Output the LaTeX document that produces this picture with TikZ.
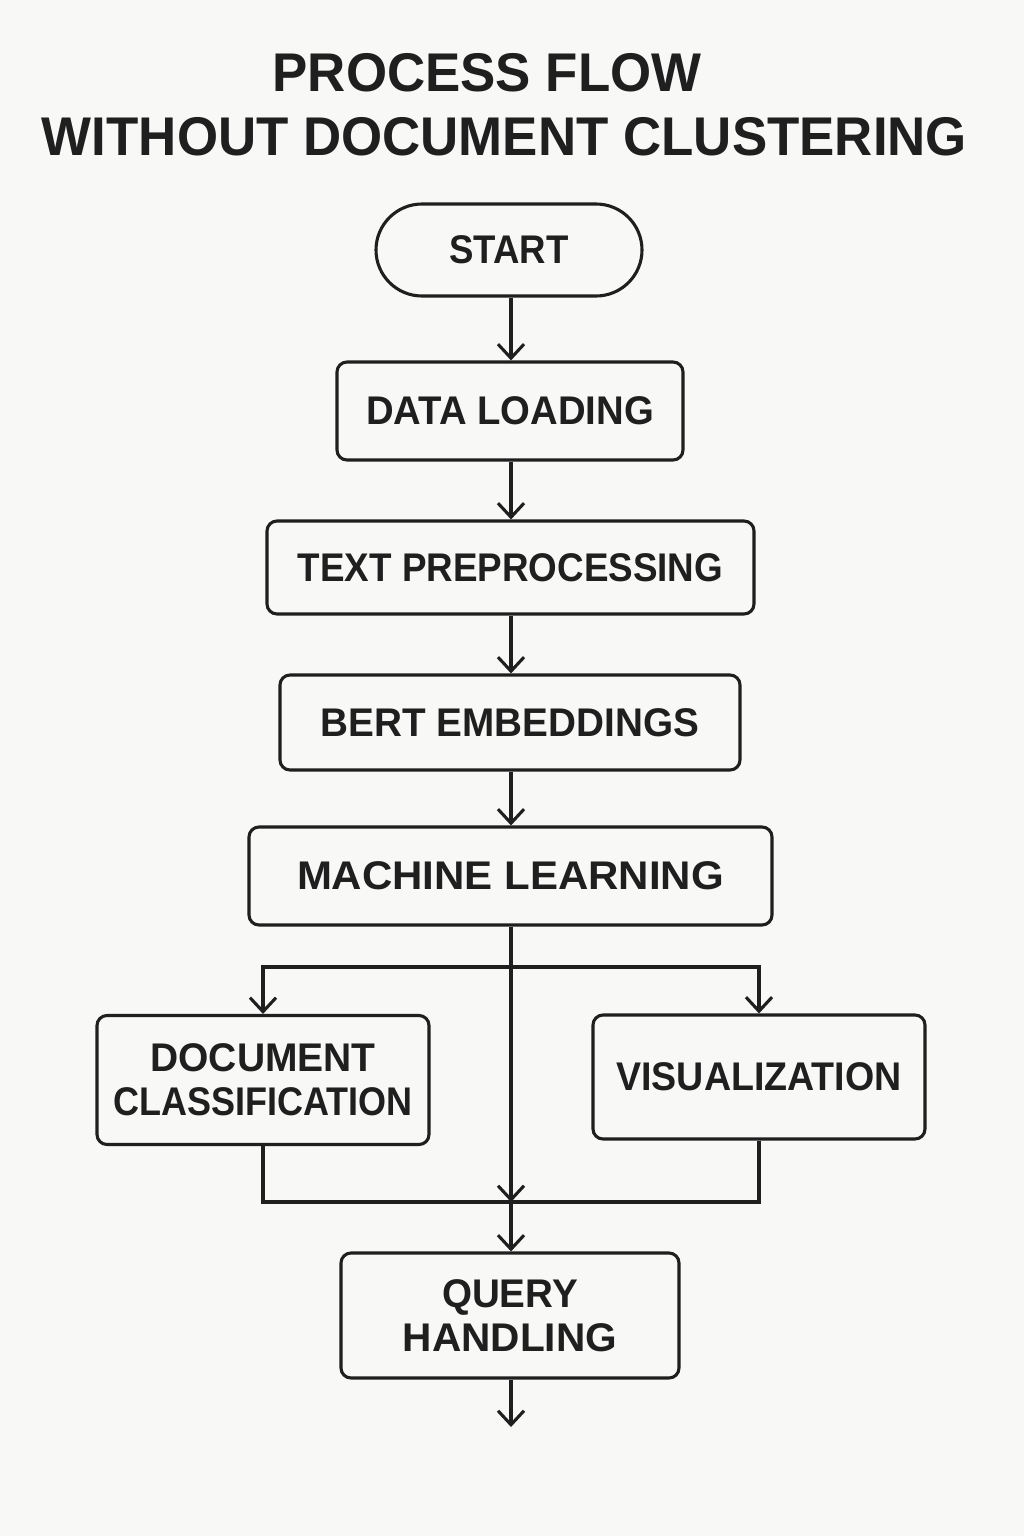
\documentclass[tikz,border=0pt]{standalone}
\usepackage{fontspec}
\usepackage{graphicx}
\usetikzlibrary{arrows.meta,shapes.misc}
\newfontfamily\boxfont{Liberation Sans}
\newfontfamily\titlefont[FakeStretch=0.97]{Liberation Sans}
\newcommand{\sx}[2]{\scalebox{#1}[1]{#2}}
\definecolor{bg}{HTML}{F8F8F6}
\definecolor{ink}{HTML}{1F1F1F}
\begin{document}
\begin{tikzpicture}[x=1pt,y=-1pt,
  boxstyle/.style={draw=ink,line width=3.1pt,rounded corners=10pt,inner sep=0pt,
    text=ink,align=center,font=\boxfont\bfseries\fontsize{40}{44}\selectfont},
  startstyle/.style={draw=ink,line width=3.1pt,rounded rectangle,inner sep=0pt,
    text=ink,font=\boxfont\bfseries\fontsize{40}{44}\selectfont},
  titlestyle/.style={text=ink,inner sep=0pt,anchor=base,font=\titlefont\bfseries\fontsize{54.5}{60}\selectfont},
  conn/.style={draw=ink,line width=3.1pt},
  arr/.style={conn,-{Straight Barb[length=14pt,width=26pt]}}]
\fill[bg] (0,0) rectangle (1024,1536);
\useasboundingbox (0,0) rectangle (1024,1536);

\node[titlestyle] (t1) at (487,92) {PROCESS FLOW};
\node[titlestyle] (t2) at (504.5,155) {WITHOUT DOCUMENT CLUSTERING};

\node[startstyle,minimum width=266pt,minimum height=92pt] (start) at (509,250) {\sx{0.915}{START}};
\node[boxstyle,minimum width=346pt,minimum height=98pt] (load) at (510,411) {\sx{0.957}{DATA LOADING}};
\node[boxstyle,minimum width=487pt,minimum height=93pt] (prep) at (510.5,567.5) {\sx{0.92}{TEXT PREPROCESSING}};
\node[boxstyle,minimum width=460pt,minimum height=95pt] (bert) at (510,722.5) {\sx{0.967}{BERT EMBEDDINGS}};
\node[boxstyle,minimum width=523pt,minimum height=98pt] (ml) at (510.5,876) {\sx{1.05}{MACHINE LEARNING}};
\node[boxstyle,minimum width=332pt,minimum height=129pt] (doc) at (263,1080) {\sx{0.975}{DOCUMENT}\\\sx{0.9}{CLASSIFICATION}};
\node[boxstyle,minimum width=332pt,minimum height=124pt] (vis) at (759,1077) {\sx{0.94}{VISUALIZATION}};
\node[boxstyle,minimum width=338pt,minimum height=125pt] (query) at (510,1315.5) {\sx{0.965}{QUERY}\\\sx{1.015}{HANDLING}};

\coordinate (split) at (511,967);
\coordinate (merge) at (511,1202);
\coordinate (fin) at (511,1427);

\draw[arr] (start.south -| split) -- (load.north -| split);
\draw[arr] (load.south -| split) -- (prep.north -| split);
\draw[arr] (prep.south -| split) -- (bert.north -| split);
\draw[arr] (bert.south -| split) -- (ml.north -| split);
\draw[arr] (ml.south -| split) -- (merge);
\draw[conn,line cap=rect] (split -| doc.north) -- (split -| vis.north);
\draw[arr] (split -| doc.north) -- (doc.north);
\draw[arr] (split -| vis.north) -- (vis.north);
\draw[conn,line join=miter] (doc.south) -- (merge -| doc.south) -- (merge -| vis.south) -- (vis.south);
\draw[arr] (merge) -- (query.north -| merge);
\draw[arr] (query.south -| fin) -- (fin);
\end{tikzpicture}
\end{document}
